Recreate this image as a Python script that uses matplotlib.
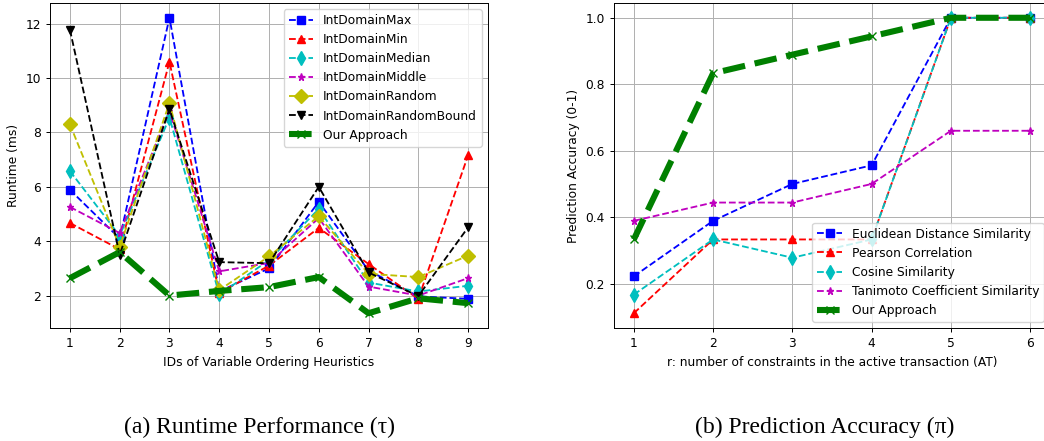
import matplotlib
matplotlib.use("Agg")
import matplotlib.pyplot as plt

# ---- Data: (a) Runtime performance ----
heuristic_ids = [1, 2, 3, 4, 5, 6, 7, 8, 9]
int_domain_max = [5.89, 4.10, 12.22, 2.15, 3.00, 5.45, 2.92, 1.97, 1.88]
int_domain_min = [4.67, 3.70, 10.60, 2.10, 3.10, 4.49, 3.16, 1.88, 7.16]
int_domain_median = [6.58, 4.20, 8.55, 2.04, 3.30, 5.19, 2.48, 2.15, 2.36]
int_domain_middle = [5.26, 4.30, 8.80, 2.89, 3.20, 4.85, 2.33, 2.00, 2.64]
int_domain_random = [8.30, 3.80, 9.08, 2.20, 3.44, 4.92, 2.80, 2.68, 3.47]
int_domain_random_bound = [11.78, 3.50, 8.86, 3.23, 3.19, 6.00, 2.85, 1.98, 4.51]
our_runtime = [2.64, 3.60, 2.00, 2.17, 2.31, 2.68, 1.35, 1.90, 1.72]

# ---- Data: (b) Prediction accuracy ----
r_values = [1, 2, 3, 4, 5, 6]
euclidean = [0.222, 0.389, 0.500, 0.556, 1.0, 1.0]
pearson = [0.111, 0.333, 0.333, 0.333, 1.0, 1.0]
cosine = [0.167, 0.333, 0.278, 0.333, 1.0, 1.0]
tanimoto = [0.389, 0.444, 0.444, 0.500, 0.660, 0.660]
our_accuracy = [0.333, 0.833, 0.889, 0.944, 1.0, 1.0]

FS = 8.8
S = 0.88
W, H = 1044, 441
fig = plt.figure(figsize=(W / 100, H / 100), dpi=100)

def frac(x0, y0, x1, y1):
    return [x0 / W, 1 - y1 / H, (x1 - x0) / W, (y1 - y0) / H]

lw = 1.5 * S
ms = 6 * S
lw_big = 5 * S

ax1 = fig.add_axes(frac(50, 3, 488, 328))
ax1.plot(heuristic_ids, int_domain_max, 'b--s', lw=lw, ms=ms, label='IntDomainMax')
ax1.plot(heuristic_ids, int_domain_min, 'r--^', lw=lw, ms=ms, label='IntDomainMin')
ax1.plot(heuristic_ids, int_domain_median, 'c--d', lw=lw, ms=ms * 1.3, label='IntDomainMedian')
ax1.plot(heuristic_ids, int_domain_middle, 'm--*', lw=lw, ms=ms, label='IntDomainMiddle')
ax1.plot(heuristic_ids, int_domain_random, 'y--D', lw=lw, ms=ms * 1.4, label='IntDomainRandom')
ax1.plot(heuristic_ids, int_domain_random_bound, 'k--v', lw=lw, ms=ms, label='IntDomainRandomBound')
ax1.plot(heuristic_ids, our_runtime, 'g--x', lw=lw_big, ms=ms * 1.2, label='Our Approach')
ax1.set_xticks(heuristic_ids)
ax1.set_xlabel('IDs of Variable Ordering Heuristics', fontsize=FS)
ax1.set_ylabel('Runtime (ms)', fontsize=FS)
ax1.tick_params(labelsize=FS, length=3.5 * S, width=0.8 * S)
ax1.grid(True, color='#b0b0b0', lw=0.8 * S)
ax1.legend(loc='upper right', fontsize=FS)

ax2 = fig.add_axes(frac(614, 3, 1050, 328))
ax2.plot(r_values, euclidean, 'b--s', lw=lw, ms=ms, label='Euclidean Distance Similarity')
ax2.plot(r_values, pearson, 'r--^', lw=lw, ms=ms, label='Pearson Correlation')
ax2.plot(r_values, cosine, 'c--d', lw=lw, ms=ms * 1.3, label='Cosine Similarity')
ax2.plot(r_values, tanimoto, 'm--*', lw=lw, ms=ms, label='Tanimoto Coefficient Similarity')
ax2.plot(r_values, our_accuracy, 'g--x', lw=lw_big, ms=ms * 1.2, label='Our Approach')
ax2.set_xticks(r_values)
ax2.set_yticks([0.2, 0.4, 0.6, 0.8, 1.0])
ax2.set_xlabel('r: number of constraints in the active transaction (AT)', fontsize=FS)
ax2.set_ylabel('Prediction Accuracy (0-1)', fontsize=FS)
ax2.tick_params(labelsize=FS, length=3.5 * S, width=0.8 * S)
ax2.grid(True, color='#b0b0b0', lw=0.8 * S)
ax2.legend(loc='lower right', fontsize=FS)

for ax in (ax1, ax2):
    for sp in ax.spines.values():
        sp.set_linewidth(0.8 * S)

fig.text(260 / W, 1 - 427 / H, '(a) Runtime Performance (\u03c4)', ha='center', va='center',
         fontsize=17, family='Liberation Serif')
fig.text(825 / W, 1 - 427 / H, '(b) Prediction Accuracy (\u03c0)', ha='center', va='center',
         fontsize=17, family='Liberation Serif')

fig.savefig('out.png', dpi=100)
